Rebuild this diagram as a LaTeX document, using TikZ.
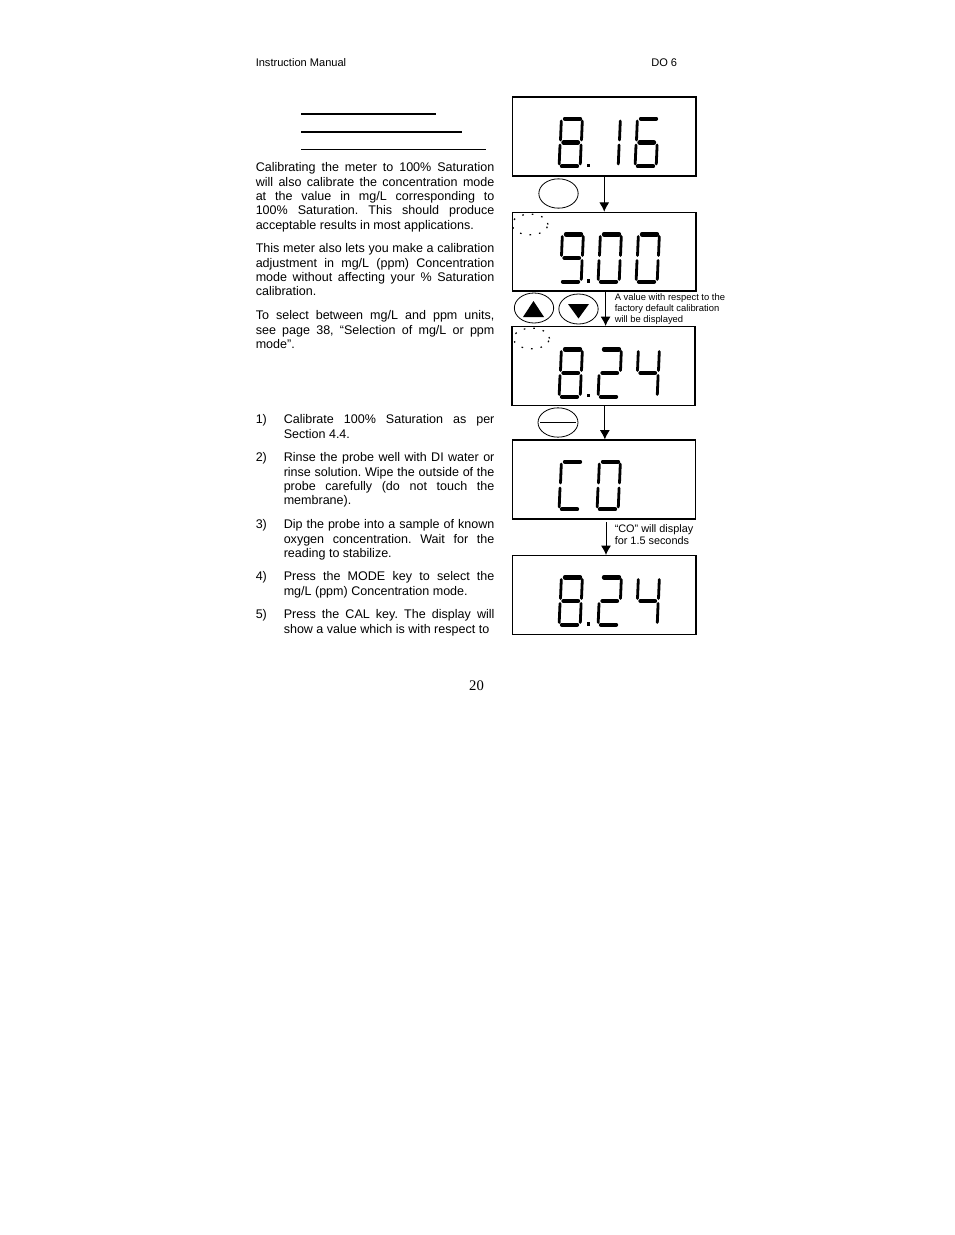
\documentclass[tikz,border=0pt]{standalone}
\usepackage{fontspec}
\setmainfont{Liberation Sans}
\newfontfamily\pagefont{Liberation Serif}
\usetikzlibrary{arrows.meta,shapes.geometric}
\frenchspacing
\newcommand{\bodyfont}{\fontsize{9.4}{10.72}\selectfont}
\newcommand{\sega}{\draw[segh] (7,1.8) -- (22,1.8);}
\newcommand{\segb}{\draw[segv] (24.3,4) -- (23.5,23);}
\newcommand{\segc}{\draw[segv] (23.1,28) -- (22.3,47);}
\newcommand{\segd}{\draw[segh] (4,49.2) -- (19,49.2);}
\newcommand{\sege}{\draw[segv] (2,28) -- (1.2,47);}
\newcommand{\segf}{\draw[segv] (3.3,4) -- (2.5,23);}
\newcommand{\segg}{\draw[segh] (5.5,25.5) -- (20,25.5);}
\newcommand{\lcddigit}[3]{\begin{scope}[shift={(#1,#2)}]#3\end{scope}}
\tikzset{
  panel/.style={draw,line width=1.1pt,minimum width=137.5pt,minimum height=59pt,inner sep=0pt},
  segh/.style={line width=3.3pt,line cap=round},
  segv/.style={line width=2.1pt,line cap=round},
  keyoval/.style={draw,ellipse,line width=0.6pt,inner sep=0pt},
  flash/.style={ellipse,draw,line width=0.9pt,inner sep=0pt,dash pattern=on 1.2pt off 6pt},
  flow/.style={draw,line width=0.7pt,-{Latex[length=7pt,width=7.5pt]}},
  bodytext/.style={anchor=north west,inner sep=0pt,font=\bodyfont,align=justify},
  headline/.style={draw=none,anchor=west,inner sep=0pt,font=\fontsize{8.3}{10}\selectfont},
  notetext/.style={anchor=north west,inner sep=0pt,align=left},
  rulehead/.style={line width=1.5pt},
}
\begin{document}
\begin{tikzpicture}[x=0.75pt,y=-0.75pt]
\useasboundingbox (0,0) rectangle (954,1235);
% page head and number
\node[headline] (manual) at (255.5,63) {Instruction Manual};
\node[headline] (model) at (651,63) {DO 6};
\node[anchor=center,inner sep=0pt,font=\pagefont\fontsize{11}{13}\selectfont] (pageno) at (476.5,686) {20};
% heading rules
\draw[rulehead] (301,113.5) -- (436,113.5);
\draw[rulehead] (301,131.5) -- (462,131.5);
\draw[line width=0.75pt] (301,149) -- (486,149);
% left column
\node[bodytext,text width=179pt] (introA) at (255.5,162.5) {Calibrating the meter to 100\% Saturation\linebreak will also calibrate the concentration mode\linebreak at the value in mg/L corresponding to\linebreak 100\% Saturation. This should produce\linebreak acceptable results in most applications.};
\node[bodytext,text width=179pt] (introB) at (255.5,243.5) {This meter also lets you make a calibration\linebreak adjustment in mg/L (ppm) Concentration\linebreak mode without affecting your \% Saturation\linebreak calibration.};
\node[bodytext,text width=179pt] (introC) at (255.5,310.5) {To select between mg/L and ppm units,\linebreak see page 38, “Selection of mg/L or ppm\linebreak mode”.};
\node[bodytext] (numA) at (255.5,414.5) {1)};
\node[bodytext,text width=158pt] (stepA) at (283.5,414.5) {Calibrate 100\% Saturation as per\linebreak Section 4.4.};
\node[bodytext] (numB) at (255.5,452.5) {2)};
\node[bodytext,text width=158pt] (stepB) at (283.5,452.5) {Rinse the probe well with DI water or\linebreak rinse solution. Wipe the outside of the\linebreak probe carefully (do not touch the\linebreak membrane).};
\node[bodytext] (numC) at (255.5,519.5) {3)};
\node[bodytext,text width=158pt] (stepC) at (283.5,519.5) {Dip the probe into a sample of known\linebreak oxygen concentration. Wait for the\linebreak reading to stabilize.};
\node[bodytext] (numD) at (255.5,571.5) {4)};
\node[bodytext,text width=158pt] (stepD) at (283.5,571.5) {Press the MODE key to select the\linebreak mg/L (ppm) Concentration mode.};
\node[bodytext] (numE) at (255.5,609.5) {5)};
\node[bodytext,text width=158pt] (stepE) at (283.5,609.5) {Press the CAL key. The display will\linebreak show a value which is with respect to};
% display panels
\node[panel] (lcdA) at (604.25,136.5) {};
\node[panel] (lcdB) at (604.25,251.75) {};
\node[panel] (lcdC) at (603.5,366) {};
\node[panel] (lcdD) at (604,479.5) {};
\node[panel] (lcdE) at (604.25,595) {};
% 8.16
\lcddigit{558}{117}{\sega\segb\segc\segd\sege\segf\segg}
\lcddigit{596}{117}{\segb\segc}
\lcddigit{634}{117}{\sega\segc\segd\sege\segf\segg}
\fill (586.5,163.5) rectangle (590,167);
% 9.00
\lcddigit{559}{232.5}{\sega\segb\segc\segd\segf\segg}
\lcddigit{597}{232.5}{\sega\segb\segc\segd\sege\segf}
\lcddigit{635}{232.5}{\sega\segb\segc\segd\sege\segf}
\fill (586.5,279) rectangle (590,282.5);
% 8.24
\lcddigit{558}{347.5}{\sega\segb\segc\segd\sege\segf\segg}
\lcddigit{597}{347.5}{\sega\segb\segd\sege\segg}
\lcddigit{635}{347.5}{\segb\segc\segf\segg}
\fill (586.5,393.5) rectangle (590,397);
% CO
\lcddigit{558}{460}{\sega\segd\sege\segf}
\lcddigit{596}{460}{\sega\segb\segc\segd\sege\segf}
% 8.24 again
\lcddigit{558}{575.5}{\sega\segb\segc\segd\sege\segf\segg}
\lcddigit{597}{575.5}{\sega\segb\segd\sege\segg}
\lcddigit{635}{575.5}{\segb\segc\segf\segg}
\fill (586.5,622) rectangle (590,625.5);
% flashing marks
\node[flash,minimum width=27pt,minimum height=15.5pt] (blinkB) at (530,224.5) {};
\node[flash,minimum width=27pt,minimum height=15.5pt] (blinkC) at (531.5,338.5) {};
% keys
\node[keyoval,minimum width=29.5pt,minimum height=22pt] (keyCal) at (558.5,193.5) {};
\node[keyoval,minimum width=29.5pt,minimum height=22.5pt] (keyUp) at (534,308) {};
\node[keyoval,minimum width=29.5pt,minimum height=22.5pt] (keyDown) at (578.5,309) {};
\node[keyoval,minimum width=30pt,minimum height=22pt] (keyMode) at (558,422.5) {};
\fill (523,317) -- (544,317) -- (533.5,301) -- cycle;
\fill (568,304) -- (589,304) -- (578.5,318.5) -- cycle;
\draw[line width=0.6pt] ([xshift=2pt]keyMode.west) -- ([xshift=-2pt]keyMode.east);
% arrows
\coordinate (gapD) at (606,522);
\draw[flow] (lcdA.south) -- (lcdA.south |- lcdB.north);
\draw[flow] ([xshift=1pt]lcdB.south) -- ([xshift=1pt]lcdB.south |- lcdC.north);
\draw[flow] ([xshift=1pt]lcdC.south) -- ([xshift=1pt]lcdC.south |- lcdD.north);
\draw[flow] (gapD) -- (gapD |- lcdE.north);
% notes
\node[notetext,font=\fontsize{7.05}{8.1}\selectfont] (noteB) at (614.5,293.5) {A value with respect to the\\factory default calibration\\will be displayed};
\node[notetext,font=\fontsize{8.15}{9}\selectfont] (noteD) at (614.5,524.5) {“CO” will display\\for 1.5 seconds};
\end{tikzpicture}
\end{document}
